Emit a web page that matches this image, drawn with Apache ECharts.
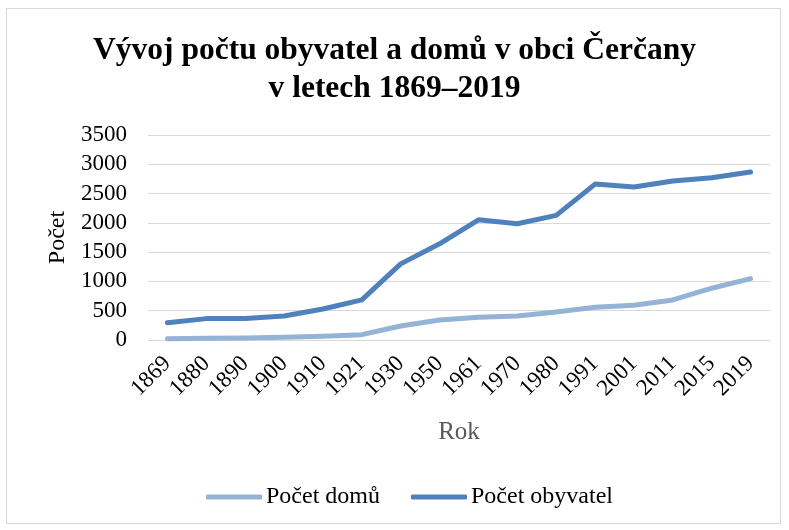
<!DOCTYPE html>
<html>
<head>
<meta charset="utf-8">
<script src="https://cdn.jsdelivr.net/npm/echarts@6/dist/echarts.min.js"></script>
<style>
  html, body { margin: 0; padding: 0; background: #fff; }
  #frame {
    position: absolute; left: 6px; top: 8px; width: 775px; height: 516px;
    border: 1px solid #d9d9d9; box-sizing: border-box;
  }
  #main { position: absolute; left: 0; top: 0; width: 789px; height: 530px; }
</style>
</head>
<body>
<div id="frame"></div>
<div id="main"></div>
<script>
// data
var roky = ["1869", "1880", "1890", "1900", "1910", "1921", "1930", "1950", "1961", "1970", "1980", "1991", "2001", "2011", "2015", "2019"];
var pocetDomu = [23, 28, 34, 46, 63, 91, 240, 342, 388, 410, 479, 559, 593, 684, 884, 1049];
var pocetObyvatel = [296, 365, 368, 410, 530, 684, 1300, 1642, 2052, 1984, 2127, 2662, 2611, 2714, 2771, 2868];
var yTicks = [0, 500, 1000, 1500, 2000, 2500, 3000, 3500];

var serif = "'Liberation Serif', 'DejaVu Serif', serif";
var myChart = echarts.init(document.getElementById("main"));

myChart.setOption({
  animation: false,
  title: {
    text: "Vývoj počtu obyvatel a domů v obci Čerčany\nv letech 1869–2019",
    left: "center",
    top: 27,
    textStyle: {
      fontFamily: serif,
      fontWeight: "bold",
      fontSize: 31.5,
      lineHeight: 38,
      color: "#000",
    },
  },
  grid: {
    left: 148,
    right: 19,
    top: 135,
    bottom: 190,
  },
  legend: {
    bottom: 16,
    left: 201,
    itemWidth: 56,
    itemHeight: 5,
    itemGap: 31,
    icon: "roundRect",
    textStyle: { fontFamily: serif, fontSize: 24, color: "#000", padding: [0, 0, 0, -1] },
    data: ["Počet domů", "Počet obyvatel"],
  },
  xAxis: {
    type: "category",
    data: roky,
    boundaryGap: true,
    name: "Rok",
    nameLocation: "middle",
    nameGap: 80,
    nameMoveOverlap: false,
    nameTextStyle: { fontFamily: serif, fontSize: 25, color: "#595959" },
    axisLine: { lineStyle: { color: "#d9d9d9" } },
    axisTick: { show: false },
    axisLabel: {
      rotate: 45,
      interval: 0,
      fontFamily: serif,
      fontSize: 23,
      color: "#000",
      margin: 20,
    },
  },
  yAxis: {
    type: "value",
    min: yTicks[0],
    max: yTicks[yTicks.length - 1],
    interval: 500,
    name: "Počet",
    nameLocation: "middle",
    nameGap: 78,
    nameTextStyle: { fontFamily: serif, fontSize: 24, color: "#000" },
    axisLine: { show: false },
    axisTick: { show: false },
    splitLine: { lineStyle: { color: "#d9d9d9", width: 1 } },
    axisLabel: {
      fontFamily: serif,
      fontSize: 23,
      color: "#000",
      margin: 21,
      formatter: function (v) { return String(v); },
    },
  },
  series: [
    {
      name: "Počet domů",
      type: "line",
      data: pocetDomu,
      symbol: "none",
      lineStyle: { width: 5, color: "#95b3d7", cap: "round", join: "round" },
      itemStyle: { color: "#95b3d7" },
    },
    {
      name: "Počet obyvatel",
      type: "line",
      data: pocetObyvatel,
      symbol: "none",
      lineStyle: { width: 5, color: "#4f81bd", cap: "round", join: "round" },
      itemStyle: { color: "#4f81bd" },
    },
  ],
});
</script>
</body>
</html>
